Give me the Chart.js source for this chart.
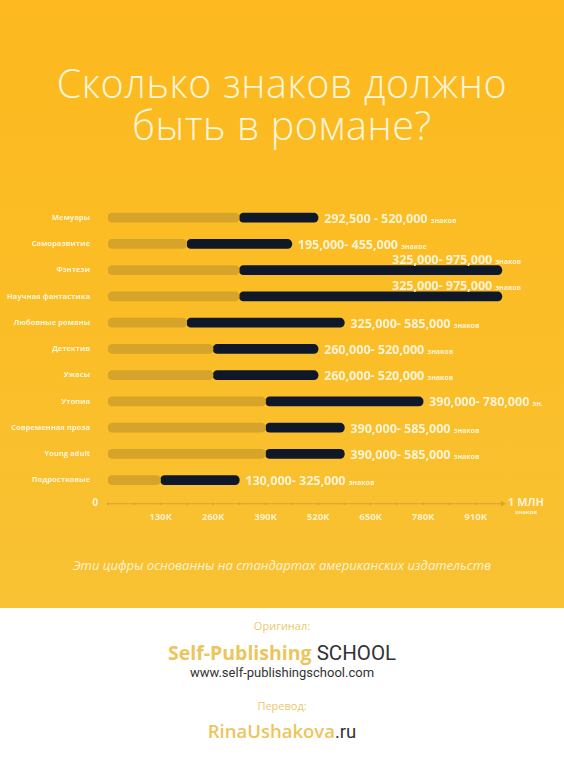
<!DOCTYPE html>
<html>
<head>
<meta charset="utf-8">
<script src="https://cdn.jsdelivr.net/npm/chart.js@4.4.1/dist/chart.umd.min.js"></script>
<style>
  html, body { margin: 0; padding: 0; }
  body { width: 564px; height: 760px; position: relative; overflow: hidden; background: #fff; font-family: "Open Sans", sans-serif; }
  #top { position: absolute; left: 0; top: 0; width: 564px; height: 608px; background: linear-gradient(180deg, #fdb91f 0%, #fbbd26 50%, #f8c234 100%); }
  #title { position: absolute; left: 0; top: 62px; width: 564px; text-align: center; color: #fff6dc; font-weight: 300; font-size: 39.5px; line-height: 42px; letter-spacing: 0.6px; }
  #chartBox { position: absolute; left: 0; top: 190px; width: 564px; height: 350px; }
  #note { position: absolute; left: 0; top: 556px; width: 564px; text-align: center; color: #fff3d2; font-style: italic; font-size: 13px; }
  .foot { position: absolute; left: 0; width: 564px; text-align: center; }
  .small { color: #ecc86a; font-size: 11px; }
  .gold { color: #ecc55c; font-weight: 700; }
  .dark { color: #333; }
</style>
</head>
<body>
<div id="top"></div>
<div id="title">Сколько знаков должно<br>быть в романе?</div>
<div id="chartBox"><canvas id="chart" width="564" height="350"></canvas></div>
<div id="note">Эти цифры основанны на стандартах американских издательств</div>
<div class="foot small" style="top:618px">Оригинал:</div>
<div class="foot" style="top:639px;font-size:19.5px"><span class="gold">Self-Publishing</span> <span class="dark" style="font-family:Roboto;font-size:20.5px">SCHOOL</span></div>
<div class="foot dark" style="top:665px;font-size:13px;font-family:Roboto">www.self-publishingschool.com</div>
<div class="foot small" style="top:698px">Перевод:</div>
<div class="foot" style="top:718px;font-size:18.5px"><span class="gold" style="font-weight:600">RinaUshakova</span><span class="dark" style="font-family:Roboto">.ru</span></div>

<script>
// genres, top to bottom
const genres = ['Мемуары', 'Саморазвитие', 'Фэнтези', 'Научная фантастика', 'Любовные романы',
    'Детектив', 'Ужасы', 'Утопия', 'Современная проза', 'Young adult', 'Подростковые'];
// where the dark bar starts / ends, as drawn
const lows = [325000, 195000, 325000, 325000, 195000, 260000, 260000, 390000, 390000, 390000, 130000];
const highs = [520000, 455000, 975000, 975000, 585000, 520000, 520000, 780000, 585000, 585000, 325000];
// the text next to each bar
const rangeLabels = ['292,500 - 520,000', '195,000- 455,000', '325,000- 975,000', '325,000- 975,000',
    '325,000- 585,000', '260,000- 520,000', '260,000- 520,000', '390,000- 780,000',
    '390,000- 585,000', '390,000- 585,000', '130,000- 325,000'];
const unitLabels = ['знаков', 'знакое', 'знаков', 'знаков', 'знаков', 'знаков', 'знаков', 'зн.',
    'знаков', 'знаков', 'знаков'];
const tickValues = [0, 130000, 260000, 390000, 520000, 650000, 780000, 910000, 1000000];
const tickLabels = ['0', '130K', '260K', '390K', '520K', '650K', '780K', '910K', '1 МЛН'];

const labelFont = '"Open Sans", sans-serif';

const valueLabels = {
    id: 'valueLabels',
    afterDatasetsDraw(chart) {
        const ctx = chart.ctx;
        const meta = chart.getDatasetMeta(1);
        const xs = chart.scales.x;
        ctx.save();
        ctx.fillStyle = '#fff4d8';
        ctx.textBaseline = 'alphabetic';
        meta.data.forEach((bar, i) => {
            ctx.font = '700 12.5px ' + labelFont;
            const w1 = ctx.measureText(rangeLabels[i]).width;
            ctx.font = '700 7px ' + labelFont;
            const w2 = ctx.measureText(unitLabels[i]).width;
            let x = bar.x + 6;
            let y = bar.y + 5;
            if (highs[i] > 900000) {
                // no room on the right: put it above the bar
                x = xs.right + 9 - (w1 + w2 + 3);
                y = bar.y - 6;
            }
            ctx.font = '700 12.5px ' + labelFont;
            ctx.fillText(rangeLabels[i], x, y);
            ctx.font = '700 7px ' + labelFont;
            ctx.fillText(unitLabels[i], x + w1 + 3, y);
        });
        ctx.restore();
    }
};

const axisLine = {
    id: 'axisLine',
    afterDraw(chart) {
        const ctx = chart.ctx;
        const xs = chart.scales.x;
        const y = chart.chartArea.bottom + 10;
        const x0 = xs.getPixelForValue(0);
        const x1 = xs.getPixelForValue(975000);
        ctx.save();
        ctx.strokeStyle = '#d9a42a';
        ctx.lineWidth = 1;
        ctx.beginPath();
        ctx.moveTo(x0, y + 0.5);
        ctx.lineTo(x1, y + 0.5);
        ctx.stroke();
        ctx.fillStyle = '#d9a42a';
        for (let v = 0; v < 975000; v += 65000) {
            ctx.fillRect(xs.getPixelForValue(v) - 1, y - 0.5, 2, 2);
        }
        ctx.beginPath();
        ctx.moveTo(x1 + 4, y + 0.5);
        ctx.lineTo(x1 - 1, y - 2.5);
        ctx.lineTo(x1 - 1, y + 3.5);
        ctx.fill();
        ctx.fillStyle = '#fff4d8';
        ctx.font = '700 10px ' + labelFont;
        ctx.textAlign = 'right';
        ctx.textBaseline = 'middle';
        ctx.fillText(tickLabels[0], x0 - 10, y);
        ctx.textAlign = 'center';
        ctx.font = '700 11px ' + labelFont;
        ctx.fillText(tickLabels[tickLabels.length - 1], x1 + 24, y);
        ctx.font = '700 6px ' + labelFont;
        ctx.fillText('знаков', x1 + 24, y + 9);
        ctx.restore();
    }
};

new Chart(document.getElementById('chart'), {
    type: 'bar',
    data: {
        labels: genres,
        datasets: [
            {
                data: lows.map(v => [0, v]),
                backgroundColor: '#d6a42a',
                barThickness: 9,
                borderRadius: 5,
                borderSkipped: false,
                grouped: false
            },
            {
                data: lows.map((v, i) => [v, highs[i]]),
                backgroundColor: '#0f1829',
                barThickness: 9,
                borderRadius: 5,
                borderSkipped: false,
                grouped: false
            }
        ]
    },
    options: {
        indexAxis: 'y',
        responsive: false,
        animation: false,
        layout: { padding: { top: 11.75, right: 52, bottom: 6.75, left: 0 } },
        plugins: { legend: { display: false }, tooltip: { enabled: false } },
        scales: {
            x: {
                min: 0,
                max: 1000000,
                grid: { display: false },
                border: { display: false },
                afterBuildTicks: s => { s.ticks = tickValues.map(v => ({ value: v })); },
                afterFit: s => { s.height = 40; },
                ticks: {
                    autoSkip: false,
                    maxRotation: 0,
                    padding: 10,
                    color: '#fff1cc',
                    font: { family: labelFont, size: 9.5, weight: '700' },
                    callback: (v, i) => (i === 0 || i === tickValues.length - 1) ? '' : tickLabels[i]
                }
            },
            y: {
                grid: { display: false },
                border: { display: false },
                afterFit: s => { s.width = 108; },
                ticks: {
                    autoSkip: false,
                    padding: 10,
                    color: '#fff4d8',
                    font: { family: labelFont, size: 7.6, weight: '700' }
                }
            }
        }
    },
    plugins: [valueLabels, axisLine]
});
</script>
</body>
</html>
